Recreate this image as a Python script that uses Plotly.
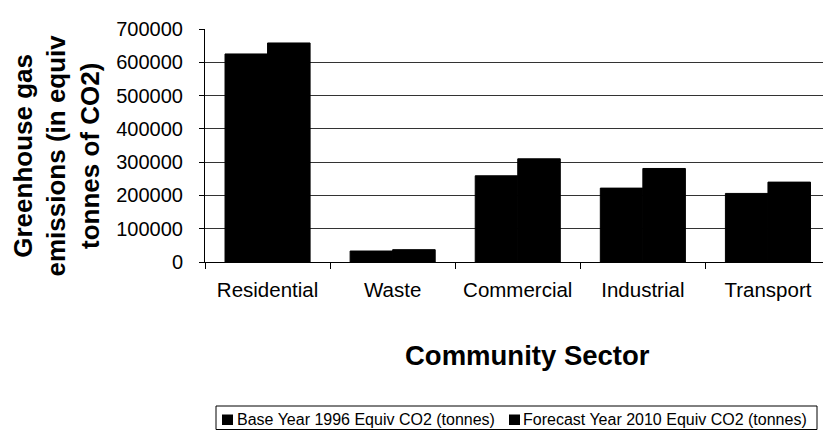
import plotly.graph_objects as go

sectors = ["Residential", "Waste", "Commercial", "Industrial", "Transport"]
base_1996 = [625000, 33000, 259000, 222000, 206000]
forecast_2010 = [658000, 37000, 310000, 281000, 240000]
y_ticks = [0, 100000, 200000, 300000, 400000, 500000, 600000, 700000]
series_names = ["Base Year 1996 Equiv CO2 (tonnes)", "Forecast Year 2010 Equiv CO2 (tonnes)"]

FONT = "Liberation Sans, Arial, Helvetica, sans-serif"

# plot area in pixels
PL, PR, PT, PB = 205, 823, 29, 262


def px_x(p):
    return (p - PL) / (PR - PL)


def px_y(p):
    return (PB - p) / (PB - PT)


fig = go.Figure()
for name, vals in zip(series_names, [base_1996, forecast_2010]):
    fig.add_trace(go.Bar(name=name, x=sectors, y=vals, showlegend=False,
                         marker=dict(color="black", line=dict(width=1, color="black"))))

fig.update_layout(
    width=823, height=430,
    margin=dict(l=PL, r=823 - PR, t=PT, b=430 - PB),
    paper_bgcolor="white", plot_bgcolor="white",
    barmode="group", bargap=0.32, bargroupgap=0,
    font=dict(family=FONT, color="black"),
    showlegend=False,
    xaxis=dict(range=[-0.5, 4.44], showline=True, linecolor="black", linewidth=1,
               ticks="outside", tickson="boundaries", ticklen=6, tickcolor="black",
               tickfont=dict(size=20.5, color="black"), showgrid=False,
               ticklabelstandoff=9),
    yaxis=dict(range=[0, 700000], tickvals=y_ticks, ticktext=[str(v) for v in y_ticks],
               showline=True, linecolor="black", linewidth=1,
               ticks="outside", ticklen=5, tickcolor="black",
               tickfont=dict(size=20, color="black"), ticklabelstandoff=12,
               showgrid=True, gridcolor="#333333", gridwidth=1, zeroline=False),
)

# axis titles
fig.add_annotation(text="<b>Community Sector</b>", xref="paper", yref="paper",
                   x=px_x(527.5), y=px_y(355.5), xanchor="center", yanchor="middle",
                   showarrow=False, font=dict(size=27.5, family=FONT, color="black"))
fig.add_annotation(text="<b>Greenhouse gas<br>emissions (in equiv<br>tonnes of CO2)</b>",
                   xref="paper", yref="paper", x=px_x(56.5), y=px_y(156),
                   xanchor="center", yanchor="middle", textangle=-90, showarrow=False,
                   font=dict(size=26, family=FONT, color="black"))

# legend (drawn manually to match the compact original layout)
fig.add_shape(type="rect", xref="paper", yref="paper",
              x0=px_x(216), x1=px_x(817), y0=px_y(406), y1=px_y(429.5),
              line=dict(color="black", width=1), fillcolor="white")
leg_sq_x = [222, 509]
leg_txt_x = [235, 521]
for sx, tx, name in zip(leg_sq_x, leg_txt_x, series_names):
    fig.add_shape(type="rect", xref="paper", yref="paper",
                  x0=px_x(sx), x1=px_x(sx + 11), y0=px_y(414.5), y1=px_y(425),
                  line=dict(width=0), fillcolor="black")
    fig.add_annotation(text=name, xref="paper", yref="paper", x=px_x(tx), y=px_y(419.5),
                       xanchor="left", yanchor="middle", showarrow=False,
                       font=dict(size=16, family=FONT, color="black"))

fig.write_html("out.html")
